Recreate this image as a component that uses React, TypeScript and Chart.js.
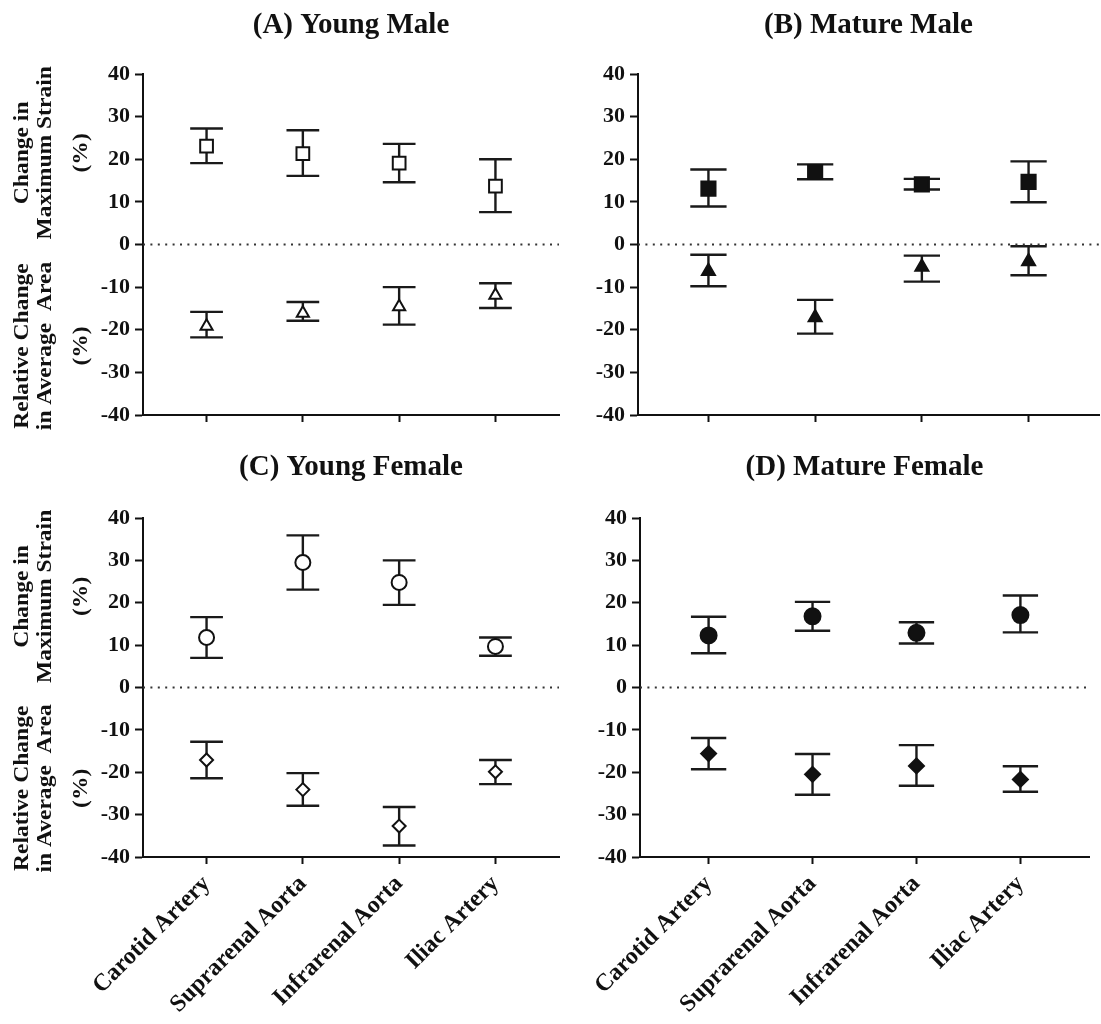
import React, { useEffect, useRef } from 'react';
import { Chart, registerables } from 'chart.js';

Chart.register(...registerables);

const FONT = '"Liberation Serif", "Times New Roman", serif';

// Categories & axis
const categories = ['Carotid Artery', 'Suprarenal Aorta', 'Infrarenal Aorta', 'Iliac Artery'];
const yMin = -40;
const yMax = 40;
const yStep = 10;
const xMin = -0.66;
const xMax = 3.66;

// Axis title lines
const strainTitleLines = ['Change in', 'Maximum Strain', '(%)'];
const areaTitleLines = ['Relative Change', 'in Average  Area', '(%)'];

// (A) Young Male
const youngMaleStrainMean = [23.1, 21.3, 19.1, 13.7];
const youngMaleStrainLow = [19.1, 16.1, 14.6, 7.6];
const youngMaleStrainHigh = [27.2, 26.8, 23.6, 20.0];
const youngMaleAreaMean = [-19.2, -16.1, -14.6, -11.9];
const youngMaleAreaLow = [-21.8, -17.9, -18.8, -14.9];
const youngMaleAreaHigh = [-15.8, -13.5, -10.0, -9.1];

// (B) Mature Male
const matureMaleStrainMean = [13.1, 17.0, 14.1, 14.7];
const matureMaleStrainLow = [8.9, 15.3, 12.9, 9.9];
const matureMaleStrainHigh = [17.6, 18.8, 15.4, 19.5];
const matureMaleAreaMean = [-6.3, -17.1, -5.3, -4.0];
const matureMaleAreaLow = [-9.8, -20.9, -8.7, -7.2];
const matureMaleAreaHigh = [-2.4, -13.0, -2.6, -0.4];

// (C) Young Female
const youngFemaleStrainMean = [11.8, 29.5, 24.8, 9.7];
const youngFemaleStrainLow = [7.0, 23.1, 19.5, 7.5];
const youngFemaleStrainHigh = [16.6, 35.9, 30.0, 11.8];
const youngFemaleAreaMean = [-17.1, -24.1, -32.7, -19.9];
const youngFemaleAreaLow = [-21.4, -27.9, -37.3, -22.8];
const youngFemaleAreaHigh = [-12.8, -20.2, -28.2, -17.1];

// (D) Mature Female
const matureFemaleStrainMean = [12.3, 16.8, 12.9, 17.1];
const matureFemaleStrainLow = [8.1, 13.4, 10.4, 13.0];
const matureFemaleStrainHigh = [16.7, 20.2, 15.4, 21.7];
const matureFemaleAreaMean = [-15.6, -20.5, -18.5, -21.7];
const matureFemaleAreaLow = [-19.3, -25.3, -23.2, -24.6];
const matureFemaleAreaHigh = [-11.9, -15.7, -13.6, -18.6];

type PanelDef = {
  title: string;
  strainMean: number[];
  strainLow: number[];
  strainHigh: number[];
  areaMean: number[];
  areaLow: number[];
  areaHigh: number[];
  upperStyle: string;
  lowerStyle: string;
  upperRadius: number;
  lowerRadius: number;
  filled: boolean;
  yTitle: boolean;
  xLabels: boolean;
  left: number;
  top: number;
  width: number;
  height: number;
  plotLeft: number;
  plotRight: number;
  plotTop: number;
  plotBottom: number;
  titleY: number;
};

const INK = '#111';

const errorBarPlugin = {
  id: 'errorBars',
  beforeDatasetsDraw(chart: any) {
    const { ctx, scales } = chart;
    const xs = scales.x;
    const ys = scales.y;
    ctx.save();
    ctx.strokeStyle = '#1a1a1a';
    ctx.lineWidth = 2.4;
    ctx.lineCap = 'butt';
    chart.data.datasets.forEach((ds: any) => {
      if (!ds.errLow) return;
      ds.data.forEach((pt: any, i: number) => {
        const cx = xs.getPixelForValue(pt.x);
        const xl = xs.getPixelForValue(pt.x - 0.17);
        const xr = xs.getPixelForValue(pt.x + 0.17);
        const yl = ys.getPixelForValue(ds.errLow[i]);
        const yh = ys.getPixelForValue(ds.errHigh[i]);
        ctx.beginPath();
        ctx.moveTo(cx, yl);
        ctx.lineTo(cx, yh);
        ctx.moveTo(xl, yl);
        ctx.lineTo(xr, yl);
        ctx.moveTo(xl, yh);
        ctx.lineTo(xr, yh);
        ctx.stroke();
      });
    });
    ctx.restore();
  },
};

const textPlugin = {
  id: 'panelText',
  afterDraw(chart: any) {
    const { ctx, chartArea, scales } = chart;
    const cfg = chart.options.plugins.panelText;
    ctx.save();
    ctx.fillStyle = INK;
    ctx.font = `bold 29px ${FONT}`;
    ctx.textAlign = 'center';
    ctx.textBaseline = 'middle';
    ctx.fillText(cfg.title, (chartArea.left + chartArea.right) / 2, cfg.titleY);
    if (cfg.yTitle) {
      const ys = scales.y;
      const xsPos = [22, 45, 81];
      const groups = [
        { lines: strainTitleLines, cy: ys.getPixelForValue(21.5) },
        { lines: areaTitleLines, cy: ys.getPixelForValue(-23.8) },
      ];
      ctx.font = `bold 22px ${FONT}`;
      groups.forEach((g) => {
        g.lines.forEach((line, k) => {
          ctx.save();
          ctx.translate(xsPos[k], g.cy);
          ctx.rotate(-Math.PI / 2);
          ctx.scale(1.07, 1);
          ctx.fillText(line, 0, 0);
          ctx.restore();
        });
      });
    }
    ctx.restore();
  },
};

function Panel({ p }: { p: PanelDef }) {
  const ref = useRef<HTMLCanvasElement | null>(null);
  useEffect(() => {
    if (!ref.current) return;
    const fillColor = p.filled ? INK : '#ffffff';
    const chart = new Chart(ref.current, {
      type: 'scatter',
      data: {
        datasets: [
          {
            label: 'zero',
            data: [
              { x: xMin, y: 0 },
              { x: xMax, y: 0 },
            ],
            showLine: true,
            borderColor: '#333',
            borderWidth: 2,
            borderDash: [2, 5.4],
            pointRadius: 0,
            order: 5,
          },
          {
            label: 'strain',
            data: p.strainMean.map((y, i) => ({ x: i, y })),
            errLow: p.strainLow,
            errHigh: p.strainHigh,
            pointStyle: p.upperStyle,
            pointRadius: p.upperRadius,
            backgroundColor: fillColor,
            borderColor: INK,
            borderWidth: 2,
            order: 1,
          } as any,
          {
            label: 'area',
            data: p.areaMean.map((y, i) => ({ x: i, y })),
            errLow: p.areaLow,
            errHigh: p.areaHigh,
            pointStyle: p.lowerStyle,
            pointRadius: p.lowerRadius,
            backgroundColor: fillColor,
            borderColor: INK,
            borderWidth: 2,
            order: 1,
          } as any,
        ],
      },
      options: {
        animation: false,
        responsive: false,
        maintainAspectRatio: false,
        events: [],
        layout: {
          autoPadding: false,
          padding: { left: 0, top: p.plotTop, right: p.width - p.plotRight, bottom: 0 },
        },
        plugins: {
          legend: { display: false },
          tooltip: { enabled: false },
          title: { display: false },
          panelText: { title: p.title, titleY: p.titleY, yTitle: p.yTitle },
        } as any,
        scales: {
          x: {
            type: 'linear',
            min: xMin,
            max: xMax,
            afterBuildTicks: (s: any) => {
              s.ticks = categories.map((_, i) => ({ value: i }));
            },
            afterFit: (s: any) => {
              s.height = p.height - p.plotBottom;
            },
            ticks: {
              display: p.xLabels,
              autoSkip: false,
              minRotation: 45,
              maxRotation: 45,
              padding: 6,
              color: INK,
              font: { family: FONT, size: 24, weight: 'bold' },
              callback: (v: any) => categories[Math.round(Number(v))] ?? '',
            },
            grid: {
              drawOnChartArea: false,
              drawTicks: true,
              tickLength: 7,
              tickWidth: 2,
              tickColor: INK,
            },
            border: { display: true, color: INK, width: 2 },
          },
          y: {
            type: 'linear',
            min: yMin,
            max: yMax,
            afterFit: (s: any) => {
              s.width = p.plotLeft;
            },
            ticks: {
              stepSize: yStep,
              padding: 5,
              color: INK,
              font: { family: FONT, size: 22, weight: 'bold' },
            },
            grid: {
              drawOnChartArea: false,
              drawTicks: true,
              tickLength: 8,
              tickWidth: 2,
              tickColor: INK,
            },
            border: { display: true, color: INK, width: 2 },
          },
        },
      } as any,
      plugins: [errorBarPlugin, textPlugin],
    });
    return () => chart.destroy();
  }, [p]);
  return (
    <canvas
      ref={ref}
      width={p.width}
      height={p.height}
      style={{ position: 'absolute', left: p.left, top: p.top, width: p.width, height: p.height }}
    />
  );
}

const panels: PanelDef[] = [
  {
    title: '(A) Young Male',
    strainMean: youngMaleStrainMean,
    strainLow: youngMaleStrainLow,
    strainHigh: youngMaleStrainHigh,
    areaMean: youngMaleAreaMean,
    areaLow: youngMaleAreaLow,
    areaHigh: youngMaleAreaHigh,
    upperStyle: 'rect',
    lowerStyle: 'triangle',
    upperRadius: 9,
    lowerRadius: 7,
    filled: false,
    yTitle: true,
    xLabels: false,
    left: 0,
    top: 0,
    width: 565,
    height: 440,
    plotLeft: 143,
    plotRight: 559,
    plotTop: 74,
    plotBottom: 415,
    titleY: 26,
  },
  {
    title: '(B) Mature Male',
    strainMean: matureMaleStrainMean,
    strainLow: matureMaleStrainLow,
    strainHigh: matureMaleStrainHigh,
    areaMean: matureMaleAreaMean,
    areaLow: matureMaleAreaLow,
    areaHigh: matureMaleAreaHigh,
    upperStyle: 'rect',
    lowerStyle: 'triangle',
    upperRadius: 10,
    lowerRadius: 7.5,
    filled: true,
    yTitle: false,
    xLabels: false,
    left: 565,
    top: 0,
    width: 536,
    height: 440,
    plotLeft: 73,
    plotRight: 534,
    plotTop: 74,
    plotBottom: 415,
    titleY: 26,
  },
  {
    title: '(C) Young Female',
    strainMean: youngFemaleStrainMean,
    strainLow: youngFemaleStrainLow,
    strainHigh: youngFemaleStrainHigh,
    areaMean: youngFemaleAreaMean,
    areaLow: youngFemaleAreaLow,
    areaHigh: youngFemaleAreaHigh,
    upperStyle: 'circle',
    lowerStyle: 'rectRot',
    upperRadius: 7.5,
    lowerRadius: 6.5,
    filled: false,
    yTitle: true,
    xLabels: true,
    left: 0,
    top: 440,
    width: 565,
    height: 584,
    plotLeft: 143,
    plotRight: 559,
    plotTop: 78,
    plotBottom: 417,
    titleY: 28,
  },
  {
    title: '(D) Mature Female',
    strainMean: matureFemaleStrainMean,
    strainLow: matureFemaleStrainLow,
    strainHigh: matureFemaleStrainHigh,
    areaMean: matureFemaleAreaMean,
    areaLow: matureFemaleAreaLow,
    areaHigh: matureFemaleAreaHigh,
    upperStyle: 'circle',
    lowerStyle: 'rectRot',
    upperRadius: 8,
    lowerRadius: 7.5,
    filled: true,
    yTitle: false,
    xLabels: true,
    left: 565,
    top: 440,
    width: 536,
    height: 584,
    plotLeft: 75,
    plotRight: 524,
    plotTop: 78,
    plotBottom: 417,
    titleY: 28,
  },
];

export default function App() {
  return (
    <div
      style={{
        position: 'absolute',
        left: 0,
        top: 0,
        width: 1101,
        height: 1024,
        background: '#ffffff',
        overflow: 'hidden',
      }}
    >
      {panels.map((p, i) => (
        <Panel key={i} p={p} />
      ))}
    </div>
  );
}
